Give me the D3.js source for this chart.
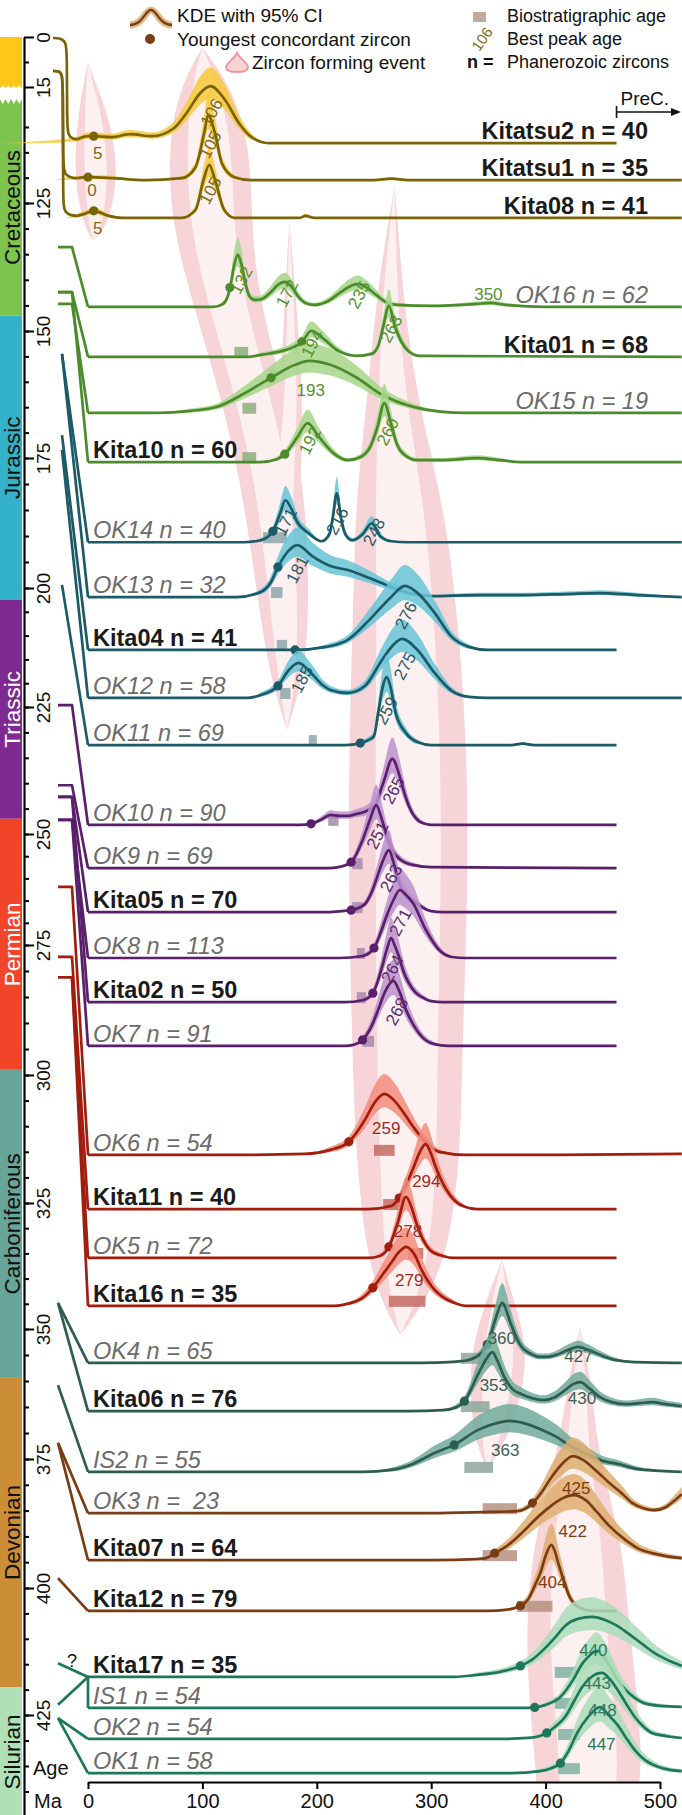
<!DOCTYPE html>
<html>
<head>
<meta charset="utf-8">
<script src="https://cdn.jsdelivr.net/npm/d3@7"></script>
<style>
  body { margin: 0; background: #fff; }
  svg { display: block; }
  text { font-family: "Liberation Sans", Arial, sans-serif; white-space: pre; }
  .nar { font-family: "Liberation Sans Narrow", "Arial Narrow", "Liberation Sans", sans-serif; }
</style>
</head>
<body>
<svg width="682" height="1815"></svg>
<script>
// ---- data ----
var sampleNames = ['Kitatsu2', 'Kitatsu1', 'Kita08', 'OK16', 'Kita01', 'OK15', 'Kita10',
  'OK14', 'OK13', 'Kita04', 'OK12', 'OK11', 'OK10', 'OK9', 'Kita05', 'OK8', 'Kita02', 'OK7',
  'OK6', 'Kita11', 'OK5', 'Kita16', 'OK4', 'Kita06', 'IS2', 'OK3', 'Kita07', 'Kita12',
  'Kita17', 'IS1', 'OK2', 'OK1'];
var sampleN = [40, 35, 41, 62, 68, 19, 60, 40, 32, 41, 58, 69, 90, 69, 70, 113, 50, 91,
  54, 40, 72, 35, 65, 76, 55, 23, 64, 79, 35, 54, 54, 58];
var sampleGroup = ['neo', 'neo', 'neo', 'cre', 'cre', 'cre', 'cre',
  'jur', 'jur', 'jur', 'jur', 'jur', 'tri', 'tri', 'tri', 'tri', 'tri', 'tri',
  'per', 'per', 'per', 'per', 'car', 'car', 'car', 'dev', 'dev', 'dev',
  'sil', 'sil', 'sil', 'sil'];
// where each sample's baseline sits on the (broken) age axis, Ma
var plotAge = [113.2, 120.5, 127.9, 145.3, 155.1, 166.1, 175.8, 191.2, 201.9, 213.0, 223.1, 232.5,
  248.2, 257.7, 267.6, 277.5, 286.0, 294.4, 315.6, 326.2, 335.9, 345.4, 356.5, 365.8, 377.5,
  385.5, 394.6, 404.5, 417.5, 423.6, 429.7, 436.4];
// depositional age where the leader leaves the age axis, Ma
var depAge = [0.3, 10.2, 10.2, 133.6, 142.4, 144.7, 142.4, 154.5, 154.5, 170.5, 173.4, 199.4,
  224.6, 240.4, 242.7, 247.2, 242.7, 247.2, 261.9, 277.3, 281.2, 281.2, 344.8, 344.8, 360.8,
  371.9, 371.9, 398.1, 414.8, 423.0, 425.6, 425.6];
var youngest = [5, 0, 5, 124, 187, 160, 172, 161.6, 166, 181, 166, 238, 195, 230, 230, 250, 249, 240,
  228, 272, 263, 249, 349, 329, 320, 388.6, 355.5, 378, 378, 390.5, 401, 413];
var bioRange = [null, null, null, null, [128, 140], [135, 147], [135, 147], [153, 174], [160, 170],
  [165, 174], [168, 177], [193, 200], [210, 219], [231, 240], [231, 240], [235, 242], [235, 243],
  [240, 250], [250, 268], [258, 274], [280, 293], [263, 295], [326, 351], [326, 351], [329, 354],
  [345, 375], [345, 375], [375, 406], [408, 427], [408, 425], [411, 430], [411, 430]];
var peakAges = [[5, 106], [0, 105], [5, 105], [132, 172, 235, 350], [194, 263], [193], [192, 260],
  [171, 216, 248], [181], [276], [185, 275], [259], [265], [251], [263], [271], [264], [268],
  [259], [294], [278], [279], [360, 427], [353, 430], [363], [425], [422], [404],
  [440], [443], [448], [447]];
// last age drawn (462 = stops at the PreC. mark, 519 = runs off the right edge)
var lineEnd = [462, 519, 519, 519, 519, 519, 519, 519, 519, 462, 519, 462, 462, 462, 462, 462, 462, 462,
  519, 462, 462, 462, 519, 519, 519, 519, 519, 462, 519, 519, 519, 519];
// KDE curves: [age Ma, relative density]
var kdeCurves = [
  [[-77,0],[-40,1],[-9,4],[0,7],[5,7],[20,6],[37,9],[56,7],[75,15],[86,30],[98,50],[107,57],[120,43],[132,20],[143,6],[159,0],[462,0]],
  [[-30,0],[-9,2],[0,3],[22,2],[50,0],[82,2],[94,13],[101.5,47],[105,65],[111,47],[117,17],[128,3],[143,0],[250,0],[265,1.5],[280,0],[519,0]],
  [[-20,0],[-9,2],[-3,4],[5,7],[18,2],[30,0],[82,0],[94,8],[101,38],[106,53],[111,38],[119,8],[128,0],[185,0],[190,2],[198,0],[519,0]],
  [[0,0],[110,0],[118,3],[122,10],[125,24],[128,43],[131,52],[134,43],[137.5,24],[141,11],[146,7],[152,8],[160,15],[166,22],[172,25],[178,20],[184,10],[190,4],[198,2],[210,6],[220,14],[228,20],[236,23],[244,19],[252,12],[260,5],[270,2],[300,1],[340,3],[352,4],[365,2],[400,0],[519,0]],
  [[0,0],[140,0],[151,2],[170,6],[180,10],[187,15],[195,26],[206,18],[219,6],[235,1],[248,3],[254,12],[258,30],[263,51],[268,32],[274,15],[280,6],[290,1],[519,0]],
  [[0,0],[60,0],[90,2],[113,6],[136,19],[160,35],[181,48],[193.5,52],[212,48],[235,35],[257,18],[284,6],[310,1],[330,0],[519,0]],
  [[0,0],[150,0],[165,3],[172,8],[183,25],[192,39],[202,25],[215.6,8],[227,2],[238,5],[247,16],[253,35],[259,59],[265,38],[270,18],[276,8],[288,2],[310,2],[341,4],[360,2],[380,0],[519,0]],
  [[0,0],[136,0],[151,2],[161.6,11],[168,29],[172.5,42],[178,33],[183,20],[193,9],[204,1],[211,8],[214,25],[217.5,49],[221,25],[225,8],[231,2],[240,8],[248,19],[255.5,6],[265,1],[280,0],[519,0]],
  [[0,0],[130,0],[151,5],[160,15],[166,30],[175,46],[183,52],[196,41],[212,31],[227,27],[246,19],[265,10],[284,3],[300,1],[341,2],[380,2],[417,3],[447,4],[480,2],[519,0]],
  [[0,0],[181,0],[208,3],[227,10],[246,30],[265,53],[277,64],[288,57],[303,37],[318,13],[333,3],[349,0],[462,0]],
  [[0,0],[140,0],[151,3],[166,12],[175.6,28],[184,35],[195,25],[205,13],[212,8],[227,5],[242,12],[257,38],[266,52],[274.5,59],[288,48],[303,25],[318,7],[333,1],[350,0],[519,0]],
  [[0,0],[225,0],[238,2],[245,5],[250,9],[253.6,32],[258,60],[261,68],[264,60],[269,32],[278,12],[288,3],[300,0],[370,0],[380,1.5],[390,0],[462,0]],
  [[0,0],[185,0],[195,1],[205,6],[212,10],[220,9],[227,9],[235,11],[242,13],[248,17],[252,21],[256,35],[259,45],[266,66],[272.6,48],[277,30],[282,15],[292,2],[300,0],[462,0]],
  [[0,0],[210,0],[219,1],[230,6],[240,28],[246,47],[252,63],[256,52],[261,33],[266,18],[272.6,9],[285,3],[300,1],[462,0]],
  [[0,0],[210,0],[222,1],[230,2],[242,8],[248,20],[253.6,38],[258,52],[263,62],[267,50],[271,34],[274,24],[280,15],[288,8],[300,1],[310,0],[462,0]],
  [[0,0],[220,0],[240,2],[250,10],[256,26],[261,42],[267,58],[272.6,68],[278,63],[284,55],[295.4,28],[307,8],[318,1],[330,0],[462,0]],
  [[0,0],[225,0],[240,2],[249,9],[253,20],[257,35],[261,52],[265,64],[268,57],[272,45],[276,30],[280,20],[286,10],[292,5],[300,1],[310,0],[462,0]],
  [[0,0],[225,0],[232,1],[240,6],[248,20],[253.6,36],[260,55],[267,65],[272,55],[278,36],[285,20],[292,9],[302,2],[315,0],[462,0]],
  [[0,0],[132,0],[190,1],[212,5],[228,13],[242,35],[251,53],[259,61],[268,54],[276,42],[285,27],[293.5,15],[307,3],[330,0],[400,0],[519,1]],
  [[0,0],[245,0],[265,3],[272,11],[278,24],[284,40],[290,57],[295,65],[300,55],[303,45],[314,18],[326,4],[340,0],[462,0]],
  [[0,0],[245,0],[255,2],[263,11],[270.7,35],[278,61],[283,50],[287,35],[293,18],[299,8],[310,2],[320,0],[462,0]],
  [[0,0],[215,0],[223,1],[240,8],[249,18],[258,32],[265,43],[272,54],[278,59],[285,52],[291.6,36],[297,25],[303,16],[310,9],[318,4],[330,0],[462,0]],
  [[0,0],[290,0],[320,1],[333.5,3],[343,9],[349.4,19],[356,43],[362,60],[369.6,39],[375,24],[379,16],[387,9],[394,6],[402,6],[409.5,8],[420,13],[428.5,16],[437,13],[447.5,8],[460,3],[474,1],[519,0]],
  [[0,0],[280,0],[310,1],[322,4],[329,10],[341,37],[347,50],[353.6,59],[358,50],[364,34],[371,22],[379,17],[388,13],[398,11],[408,14],[417,21],[424,27],[430.4,29],[438,23],[447.5,14],[458,9],[470,7],[482,8],[493,9],[505,7],[519,5]],
  [[0,0],[240,0],[265,2],[284,8],[303,19],[320,27],[341,42],[358,49],[368,51],[380,49],[395,43],[409.5,35],[423,25],[436,18],[450,11],[463,8],[480,3],[500,1],[519,0]],
  [[0,0],[300,0],[345,1],[375,2],[388.6,10],[396,20],[405.7,37],[415,50],[424,57],[433,53],[443.7,43],[455,31],[466.5,20],[476,10],[485.6,5],[495,3],[505,6],[512,12],[519,19]],
  [[0,0],[300,0],[340,1],[348,2],[355.5,7],[366,14],[379,27],[395,45],[405.7,55],[415,62],[424.7,65],[435,60],[445,48],[455,35],[470,20],[482,11],[493,7],[505,4],[519,2]],
  [[0,0],[350,0],[365,1],[378,5],[385,12],[390.5,25],[396,40],[400,55],[405,66],[408,60],[411,48],[416,30],[421,14],[426,6],[432,2],[440,0],[462,0]],
  [[0,0],[320,0],[340,2],[360,5],[378,11],[388,17],[398,27],[408,39],[417,51],[428,58],[440.7,60],[452,57],[462.7,51],[475,41],[485.5,32],[495,24],[504.6,18],[519,11]],
  [[0,0],[385,0],[390.5,0.5],[400,3],[413,11],[424,28],[432,44],[438,52],[444.5,57],[450,52],[455,44],[462,30],[470,18],[478,10],[485.6,5],[500,2],[519,1]],
  [[0,0],[360,0],[385,1],[395,3],[401,6],[408,12],[417,22],[425,38],[432,52],[440,62],[449.4,66],[456,60],[463,49],[470,36],[478,22],[485,13],[493,6],[505,3],[519,1]],
  [[0,0],[370,0],[395,2],[405,5],[413,10],[420,22],[428,41],[437,56],[447.6,66],[455,58],[463,48],[470,36],[478,23],[487,13],[497,7],[510,3],[519,2]]
];
// zircon forming events: [zircon age, position on age axis, half width] along each flame
var zirconEvents = [
  [[0,7.5,0],[2,22.1,7],[5,93.4,14],[7,117.9,19],[7,125.4,15],[6,130.7,7],[5,132.2,0]],
  [[100,3.0,0],[103,22.1,24],[106,114.5,36],[108,128.3,35],[118,142,30],[140,159.6,28],[162,179.2,28],[172,205.3,22],[174,219.3,14],[174,229.5,0]],
  [[176,128.3,0],[177,143.9,5],[178,163.6,10],[172,179.2,14],[172,190,12]],
  [[268,121.8,0],[266,132.2,6],[264,144,12],[266,163.6,22],[272,183.1,38],[277,202.5,45],[280,233.5,52],[280,264.9,52],[279,295.2,48],[280,314.6,46],[279,335.7,36],[275,346.2,15],[273,351.2,0]],
  [[362,336.3,0],[360,344.2,12],[360,354,25],[356,363.7,22],[352,371.3,14],[349,377.1,0]],
  [[430,349.6,0],[430,359.8,10],[428,373.3,17],[428,390.1,38],[428,406.3,45],[432,419.5,47],[437,432.5,47],[437,438.1,45]]
];
var periods = ['Neogene', 'Cretaceous', 'Jurassic', 'Triassic', 'Permian', 'Carboniferous', 'Devonian', 'Silurian'];
var periodTop = [0, 44, 147, 202.5, 247, 299, 359.4, 419.5];
var periodBase = [16, 147, 202.5, 247, 299, 359.4, 419.5, 445];
var ageLabels = [0, 15, 125, 150, 175, 200, 225, 250, 275, 300, 325, 350, 375, 400, 425];
var ageMinor = [7.5].concat(d3.range(110, 445, 5));
var xTicks = [0, 100, 200, 300, 400, 500];

// ---- styles ----
var groupStyle = {
  neo: {line: '#7a6408', band: '#f7c93a', box: '#b9a58c', text: '#806c10', rot: true, lead: 'curve'},
  cre: {line: '#4b8b2b', band: '#a6d68a', box: '#8cae7b', text: '#55922f', rot: true, lead: 'elbow'},
  jur: {line: '#1b5a66', band: '#66c4d7', box: '#8ba7ac', text: '#2a5a63', rot: true, lead: 'straight'},
  tri: {line: '#5a1f6b', band: '#bb90cc', box: '#a58aac', text: '#5a2a6b', rot: true, lead: 'elbow'},
  per: {line: '#a11d0d', band: '#f28c7c', box: '#c46b63', text: '#a32a1c', rot: false, lead: 'elbow'},
  car: {line: '#2e5d50', band: '#70ab9b', box: '#8ca69c', text: '#3b5f55', rot: false, lead: 'straight'},
  dev: {line: '#7a3c15', band: '#dfae70', box: '#b69181', text: '#7a3c15', rot: false, lead: 'straight'},
  sil: {line: '#1d785b', band: '#aadcba', box: '#7fb2a2', text: '#2b7a60', rot: false, lead: 'straight'}
};
var periodFill = {Neogene: '#ffc819', Cretaceous: '#7dc44e', Jurassic: '#33b2ca', Triassic: '#7f2a90',
  Permian: '#f14529', Carboniferous: '#66a597', Devonian: '#cc8d37', Silurian: '#b0e0b6'};
var periodInk = {Triassic: '#fff', Permian: '#fff'};
var rightSet = new Set(['Kitatsu2', 'Kitatsu1', 'Kita08', 'OK16', 'Kita01', 'OK15']);
var uprightSet = new Set(['OK15:193']);

// ---- scales ----
var x = d3.scaleLinear().domain([0, 500]).range([88, 660]);
var yAge = d3.scaleLinear()
  .domain([0, 15, 110, 125, 150, 175, 200, 225, 250, 275, 300, 325, 350, 375, 400, 425, 445])
  .range([37, 87, 127, 203, 331, 458, 588, 707, 834, 945, 1075, 1203, 1329, 1459, 1588, 1715, 1817]);
var yDen = d3.scaleLinear().domain([0, 70]).range([0, 70]);

var svg = d3.select('svg');
var gEv = svg.append('g'), gAx = svg.append('g'), gS = svg.append('g'), gT = svg.append('g');

function interp(pts, a) {
  for (var k = 1; k < pts.length; k++) {
    if (a <= pts[k][0]) {
      var p = pts[k - 1], q = pts[k];
      return p[1] + (q[1] - p[1]) * (a - p[0]) / (q[0] - p[0]);
    }
  }
  return pts[pts.length - 1][1];
}

// zircon forming events (background flames)
function evArea(k) {
  return d3.area().curve(d3.curveBasis)
    .y(function (d) { return yAge(d[1]); })
    .x0(function (d) { return x(d[0] - d[2] * k); })
    .x1(function (d) { return x(d[0] + d[2] * k); });
}
gEv.selectAll('path.evo').data(zirconEvents).enter().append('path')
  .attr('class', 'evo').attr('d', evArea(1)).attr('fill', '#f6d4d7');
gEv.selectAll('path.evi').data(zirconEvents).enter().append('path')
  .attr('class', 'evi').attr('d', evArea(0.55)).attr('fill', '#fdf0f0');

// period bar
periods.forEach(function (p, i) {
  var y0 = yAge(periodTop[i]), y1 = yAge(periodBase[i]);
  gAx.append('rect').attr('x', 0).attr('y', y0).attr('width', 22).attr('height', y1 - y0)
    .attr('fill', periodFill[p]);
  if (p !== 'Neogene') {
    gAx.append('text').attr('transform', 'translate(12,' + ((y0 + y1) / 2) + ') rotate(-90)')
      .attr('text-anchor', 'middle').attr('dy', '0.36em').attr('font-size', 22.5)
      .attr('fill', periodInk[p] || '#111').text(p);
  }
});
// axis break zigzag
var zz = [];
d3.range(0, 9).forEach(function (k) { zz.push([k * 2.75, k % 2 ? 85 : 90]); });
d3.range(8, -1, -1).forEach(function (k) { zz.push([k * 2.75, k % 2 ? 104 : 99]); });
gAx.append('path').attr('d', d3.line()(zz) + 'Z').attr('fill', '#fff');

// age axis
var axL = gAx.append('g').attr('transform', 'translate(24,0)')
  .call(d3.axisRight(yAge).tickValues(ageLabels).tickSize(10).tickSizeOuter(0).tickPadding(0));
axL.attr('font-family', null).attr('font-size', null);
axL.select('.domain').attr('stroke-width', 2.2);
axL.selectAll('.tick line').attr('stroke-width', 2);
axL.selectAll('.tick text').attr('x', 0).attr('y', 0).attr('dy', '0.36em')
  .attr('text-anchor', 'middle').attr('font-size', 19).attr('fill', '#111')
  .attr('transform', 'translate(19,0) rotate(-90)');
var axM = gAx.append('g').attr('transform', 'translate(24,0)')
  .call(d3.axisRight(yAge).tickValues(ageMinor).tickSize(5).tickSizeOuter(0).tickFormat(''));
axM.select('.domain').remove();
axM.selectAll('.tick line').attr('stroke-width', 2);

// x axis
var axB = gAx.append('g').attr('transform', 'translate(0,1782)')
  .call(d3.axisBottom(x).tickValues(xTicks).tickSize(7).tickSizeOuter(0).tickPadding(5));
axB.attr('font-family', null).attr('font-size', null);
axB.select('.domain').attr('stroke-width', 2.2);
axB.selectAll('.tick line').attr('stroke-width', 2);
axB.selectAll('.tick text').attr('font-size', 20).attr('fill', '#111');
gT.append('text').attr('x', 33).attr('y', 1775).attr('font-size', 20).attr('fill', '#111').text('Age');
gT.append('text').attr('x', 34).attr('y', 1808).attr('font-size', 20).attr('fill', '#111').text('Ma');

// samples
var samples = sampleNames.map(function (nm, i) {
  return {name: nm, n: sampleN[i], g: sampleGroup[i], row: plotAge[i], dep: depAge[i],
    young: youngest[i], bio: bioRange[i], kde: kdeCurves[i], peaks: peakAges[i], end: lineEnd[i]};
});
var byName = {};
samples.forEach(function (s) { byName[s.name] = s; });

function leaderPts(s) {
  var yb = yAge(s.row), yd = yAge(s.dep), st = groupStyle[s.g];
  if (st.lead === 'curve') {
    var yj = yb - yDen(interp(s.kde, -9));
    var xv = s.dep < 5 ? 67 : 63;
    return {curve: true, pts: [[53, yd], [59, yd], [xv - 1, yd + 3], [xv, yd + 16], [xv, yj - 16], [xv + 1, yj - 3], [x(-9) - 4, yj], [x(-9), yj]]};
  }
  if (s.name === 'IS1') return {pts: [[58, yd], [88, yAge(byName.Kita17.row)], [88, yb]]};
  if (st.lead === 'elbow') return {pts: [[58, yd], [72, yd], [88, yb]]};
  return {pts: [[s.g === 'jur' ? 62 : 58, yd], [88, yb]]};
}

samples.forEach(function (s) {
  var st = groupStyle[s.g];
  var base = yAge(s.row);
  var g = gS.append('g');
  var pts = s.kde.filter(function (d) { return d[0] <= s.end; });
  // 95% CI band
  var band = d3.area().curve(d3.curveMonotoneX)
    .x(function (d) { return x(d[0]); })
    .y0(function (d) { var h = d[1]; return base - yDen(h - 0.2 * h - Math.min(h, 2) * 0.6); })
    .y1(function (d) { var h = d[1]; return base - yDen(h + 0.3 * h + Math.min(h, 2) * 0.8); });
  g.append('path').attr('d', band(pts)).attr('fill', st.band).attr('opacity', 0.85);
  // biostratigraphic age
  if (s.bio) {
    g.append('rect').attr('x', x(s.bio[0])).attr('y', base - 10)
      .attr('width', x(s.bio[1]) - x(s.bio[0])).attr('height', 11)
      .attr('fill', st.box).attr('opacity', 0.85);
  }
  // leader from the age axis
  var ld = leaderPts(s);
  g.append('path').attr('d', (ld.curve ? d3.line().curve(d3.curveBasis) : d3.line())(ld.pts))
    .attr('fill', 'none').attr('stroke', st.line).attr('stroke-width', 2.7)
    .attr('stroke-linejoin', 'round');
  // KDE line
  var start = st.lead === 'curve' ? -9 : 0;
  var lp = pts.filter(function (d) { return d[0] >= start; });
  g.append('path').attr('d', d3.line().curve(d3.curveMonotoneX)
      .x(function (d) { return x(d[0]); })
      .y(function (d) { return base - yDen(d[1]); })(lp))
    .attr('fill', 'none').attr('stroke', st.line).attr('stroke-width', 2.7);
  // youngest concordant zircon
  g.append('circle').attr('cx', x(s.young)).attr('cy', base - yDen(interp(s.kde, s.young)))
    .attr('r', 4.6).attr('fill', st.line);
  // best peak ages
  s.peaks.forEach(function (a) {
    var h = interp(s.kde, a), lx, ly, rot = false;
    if (h < 12) {
      if (a < 50) { lx = x(a) + 4; ly = base + 10; } else { lx = x(a); ly = base - h - 9; }
    } else if (st.rot && !uprightSet.has(s.name + ':' + a)) {
      lx = x(a) + 2; ly = base - 0.55 * h; rot = true;
    } else {
      lx = x(a) + 2; ly = base - 0.45 * h;
    }
    gT.append('text').attr('class', 'nar')
      .attr('transform', 'translate(' + lx + ',' + ly + ')' + (rot ? ' rotate(-62)' : ''))
      .attr('text-anchor', 'middle').attr('dy', '0.36em').attr('font-size', 17)
      .attr('fill', st.text).text(String(a));
  });
  // sample label
  var bold = s.name.indexOf('Kita') === 0;
  var right = rightSet.has(s.name);
  gT.append('text').attr('x', right ? 648 : 93).attr('y', base - 4)
    .attr('text-anchor', right ? 'end' : 'start').attr('font-size', 23.5)
    .attr('font-weight', bold ? 'bold' : 'normal').attr('font-style', bold ? 'normal' : 'italic')
    .attr('fill', bold ? '#1a1a1a' : '#6b6b6b')
    .text(s.name + (s.name === 'OK3' ? ' n =  ' : ' n = ') + s.n);
});

// question mark at Kita17 leader
gT.append('text').attr('x', 72).attr('y', 1667).attr('text-anchor', 'middle')
  .attr('font-size', 18).attr('fill', '#111').text('?');

// PreC. marker
var xp = x(462);
gT.append('line').attr('x1', xp).attr('x2', xp).attr('y1', 106).attr('y2', 118).attr('stroke', '#111').attr('stroke-width', 1.6);
gT.append('line').attr('x1', xp).attr('x2', 676).attr('y1', 112).attr('y2', 112).attr('stroke', '#111').attr('stroke-width', 1.6);
gT.append('path').attr('d', 'M681,112 L671,108 L671,116 Z').attr('fill', '#111');
gT.append('text').attr('x', xp + 4).attr('y', 105).attr('font-size', 19).attr('fill', '#111').text('PreC.');

// legend
var lg = gT.append('g');
lg.append('path').attr('d', 'M130,25 C143,25 145,10 151,10 C157,10 159,25 172,25')
  .attr('fill', 'none').attr('stroke', '#e2b889').attr('stroke-width', 7);
lg.append('path').attr('d', 'M130,25 C143,25 145,10 151,10 C157,10 159,25 172,25')
  .attr('fill', 'none').attr('stroke', '#7a3f14').attr('stroke-width', 2.4);
lg.append('text').attr('x', 177).attr('y', 22).attr('font-size', 19).attr('fill', '#111').text('KDE with 95% CI');
lg.append('circle').attr('cx', 150).attr('cy', 39).attr('r', 5).attr('fill', '#7a3f14');
lg.append('text').attr('x', 177).attr('y', 46).attr('font-size', 19).attr('fill', '#111').text('Youngest concordant zircon');
lg.append('path').attr('d', 'M237,53 C234,59 226,63 226,67 C226,71 231,72 237,72 C243,72 248,71 248,67 C248,63 240,59 237,53 Z')
  .attr('fill', '#f8d2d5').attr('stroke', '#e99aa0').attr('stroke-width', 2);
lg.append('text').attr('x', 252).attr('y', 69).attr('font-size', 19).attr('fill', '#111').text('Zircon forming event');
lg.append('rect').attr('x', 473).attr('y', 12).attr('width', 13).attr('height', 10).attr('fill', '#c4ab9b');
lg.append('text').attr('x', 507).attr('y', 22).attr('font-size', 18).attr('fill', '#111').text('Biostratigraphic age');
lg.append('text').attr('class', 'nar').attr('transform', 'translate(482,39) rotate(-55)')
  .attr('text-anchor', 'middle').attr('dy', '0.36em').attr('font-size', 15).attr('fill', '#806c10').text('106');
lg.append('text').attr('x', 507).attr('y', 45).attr('font-size', 18).attr('fill', '#111').text('Best peak age');
lg.append('text').attr('x', 467).attr('y', 68).attr('font-size', 18).attr('font-weight', 'bold').attr('fill', '#111').text('n =');
lg.append('text').attr('x', 507).attr('y', 68).attr('font-size', 18).attr('fill', '#111').text('Phanerozoic zircons');
</script>
</body>
</html>
